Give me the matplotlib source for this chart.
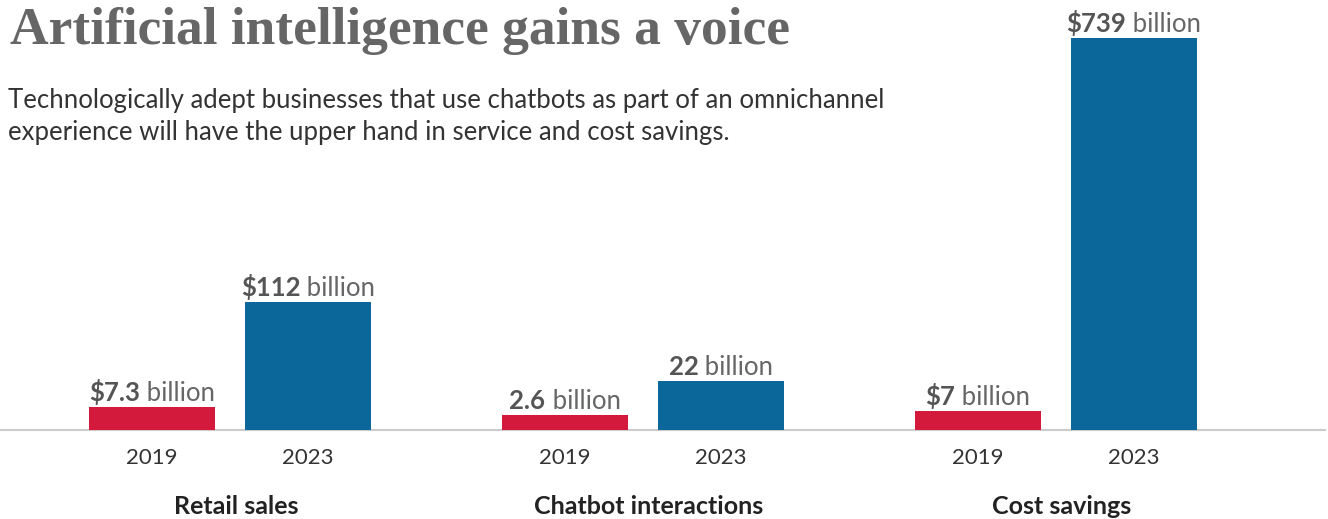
import matplotlib
matplotlib.use('Agg')
import matplotlib.pyplot as plt

# data
categories = ['Retail sales', 'Chatbot interactions', 'Cost savings']
years = ['2019', '2023']
value_text = [['$7.3', '$112'], ['2.6', '22'], ['$7', '$739']]
# bar heights as drawn in the chart (not proportional to the values)
bar_heights = [[23, 128], [15, 49], [19, 392]]

RED = '#D31A3D'
BLUE = '#0B6799'
SANS = 'Lato'

W, H = 1328, 519
BASE = 430  # baseline pixel row from top

fig = plt.figure(figsize=(W / 100, H / 100), dpi=100)
ax = fig.add_axes([0, 0, 1, 1])
ax.set_xlim(0, W)
ax.set_ylim(-(H - BASE), BASE)
ax.axis('off')

group_step = 413
pair_step = 156
first_x = 152
bar_w = 126

ax.plot([0, 1325], [0, 0], color='#CCCCCC', lw=1.5, zorder=1)

label_pairs = []
for gi, cat in enumerate(categories):
    for yi, yr in enumerate(years):
        xc = first_x + gi * group_step + yi * pair_step
        h = bar_heights[gi][yi]
        ax.bar(xc, h, width=bar_w, color=RED if yi == 0 else BLUE, zorder=2)
        ax.text(xc, -28, yr, ha='center', va='center', fontsize=16,
                family=SANS, color='#333333')
        t1 = ax.text(xc, h + 6, value_text[gi][yi], ha='left', va='baseline',
                     fontsize=18.5, family=SANS, fontweight='bold', color='#555555')
        t2 = ax.text(xc, h + 6, ' billion', ha='left', va='baseline',
                     fontsize=18.5, family=SANS, color='#666666')
        label_pairs.append((xc, t1, t2))
    gc = first_x + gi * group_step + pair_step / 2 + 6
    ax.text(gc, -77, cat, ha='center', va='center', fontsize=18,
            family=SANS, fontweight='bold', color='#222222')

# center the two-part value labels over their bars
fig.canvas.draw()
r = fig.canvas.get_renderer()
for xc, t1, t2 in label_pairs:
    w1 = t1.get_window_extent(r).width
    w2 = t2.get_window_extent(r).width
    x0 = xc - (w1 + w2) / 2
    t1.set_x(x0)
    t2.set_x(x0 + w1)

fig.text(10 / W, 1 - 44 / H, 'Artificial intelligence gains a voice',
         fontsize=38.5, family='Liberation Serif', fontweight='bold',
         color='#666666', ha='left', va='baseline')
fig.text(8 / W, 1 - 108 / H, 'Technologically adept businesses that use chatbots as part of an omnichannel',
         fontsize=18.5, family=SANS, color='#333333',
         ha='left', va='baseline')
fig.text(8 / W, 1 - 140 / H, 'experience will have the upper hand in service and cost savings.',
         fontsize=18.5, family=SANS, color='#333333',
         ha='left', va='baseline')

plt.savefig('out.png', dpi=100)
plt.close()
